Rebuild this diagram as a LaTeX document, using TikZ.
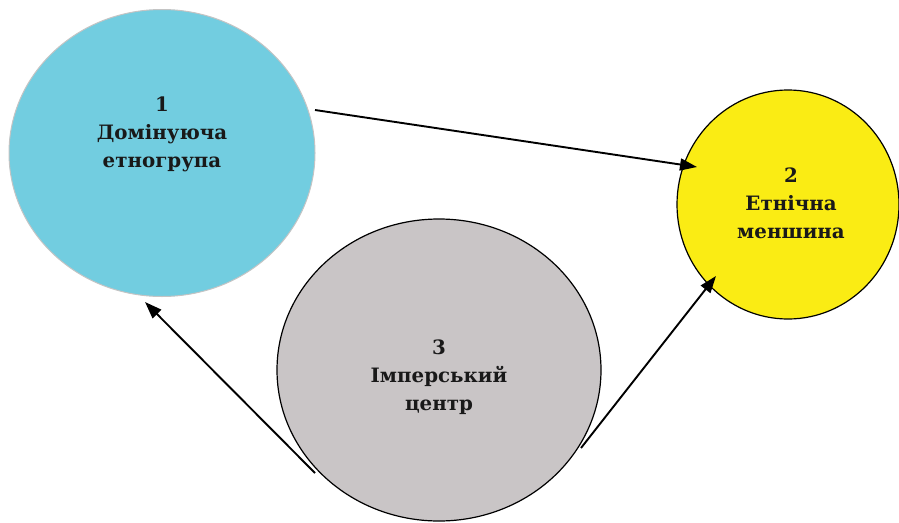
\documentclass[tikz,border=0pt]{standalone}
\usepackage{fontspec}
\setmainfont{DejaVu Serif}
\usetikzlibrary{shapes.geometric,arrows.meta,calc}
\definecolor{cblue}{HTML}{72CDE0}
\definecolor{cyel}{HTML}{FAEC14}
\definecolor{cgray}{HTML}{C9C5C6}
\definecolor{cedge}{HTML}{C4C4C4}
\begin{document}
\begin{tikzpicture}[x=1pt,y=-1pt,
  blob/.style={ellipse,inner sep=0pt},
  lbl/.style={align=center,font=\bfseries\fontsize{19.8}{28}\selectfont,text=black!90},
  arr/.style={line width=1.9pt,-{Triangle[length=17pt,width=12pt]}}]
\useasboundingbox (0,0) rectangle (899,522);
\node[blob,fill=cblue,draw=cedge,line width=1pt,minimum width=306pt,minimum height=287pt] (n1) at (162,153) {};
\node[lbl] (t1) at (162,134) {1\\Домінуюча\\етногрупа};
\node[blob,fill=cyel,draw=black,line width=1.2pt,minimum width=222pt,minimum height=229pt] (n2) at (788,204.5) {};
\node[lbl] (t2) at (791,203) {2\\Етнічна\\меншина};
\node[blob,fill=cgray,draw=black,line width=1.2pt,minimum width=324pt,minimum height=302pt] (n3) at (439,370) {};
\node[lbl] (t3) at (439,377) {3\\Імперський\\центр};
\coordinate (a1s) at ($(n1.center)+(153,-43)$);
\coordinate (a1e) at ($(n2.center)+(-91,-37.5)$);
\coordinate (a2s) at ($(n3.center)+(-124,103)$);
\coordinate (a2e) at ($(n1.center)+(-17,149)$);
\coordinate (a3s) at ($(n3.center)+(142,78)$);
\coordinate (a3e) at ($(n2.center)+(-72,71.5)$);
\draw[arr] (a1s) -- (a1e);
\draw[arr] (a2s) -- (a2e);
\draw[arr] (a3s) -- (a3e);
\end{tikzpicture}
\end{document}
